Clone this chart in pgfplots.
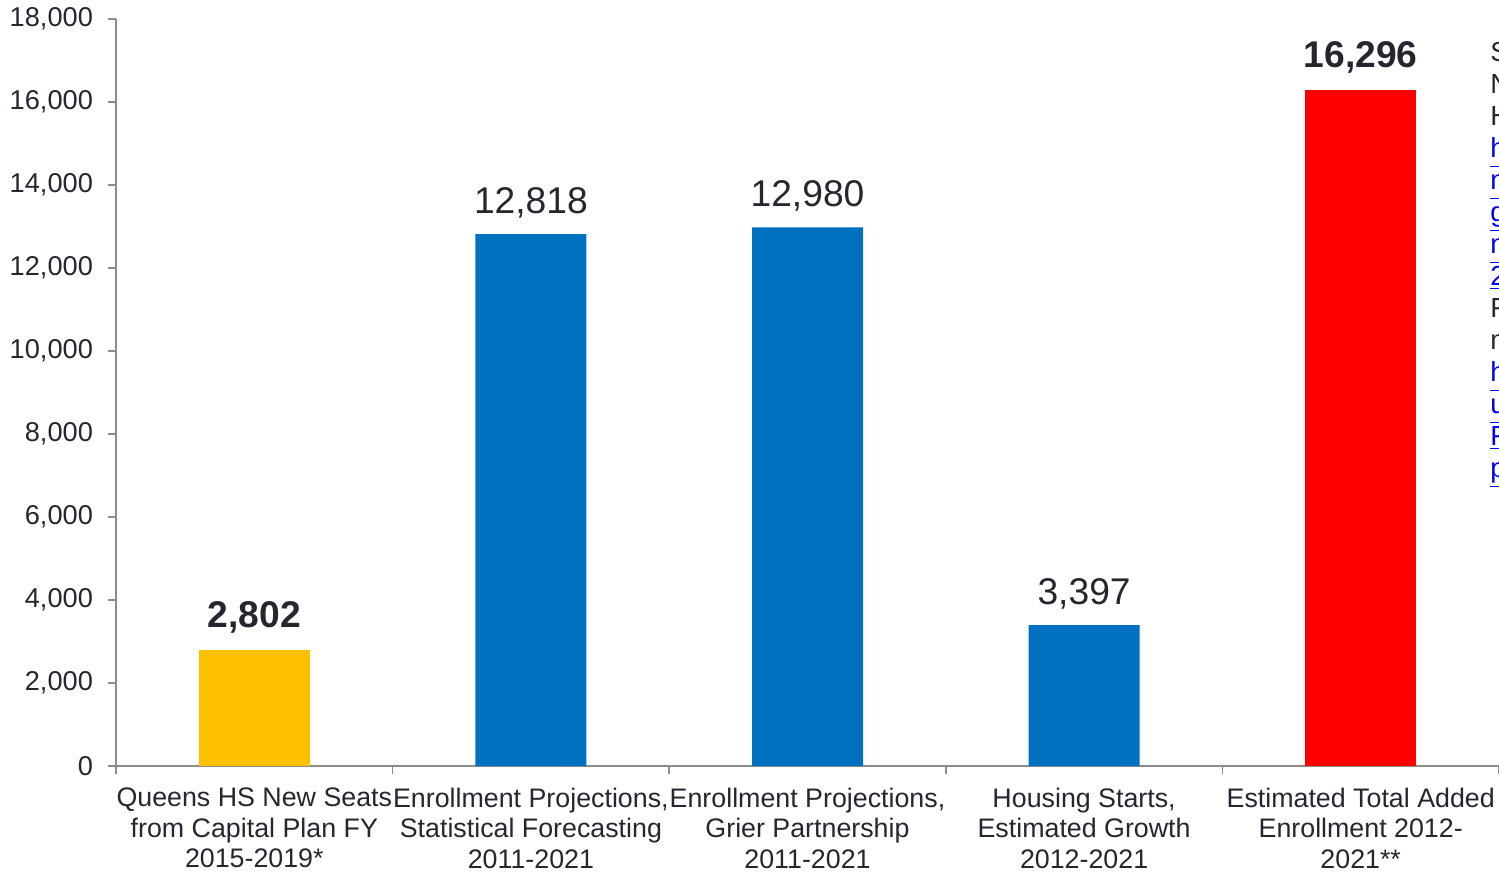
\documentclass[border=0pt]{standalone}
\usepackage{pgfplots}
\pgfplotsset{compat=1.18}
\usepackage{fontspec}
\setmainfont{Liberation Sans}
\definecolor{txt}{RGB}{38,38,48}
\definecolor{axgray}{RGB}{140,140,140}
\definecolor{barblue}{RGB}{0,112,192}
\definecolor{baryellow}{RGB}{255,192,0}
\definecolor{barred}{RGB}{255,0,0}
\definecolor{linkblue}{RGB}{0,0,238}
\newcommand{\lnk}[1]{\textcolor{linkblue}{\underline{#1}}}

\begin{document}
\begin{tikzpicture}[x=1pt,y=1pt]
\begin{axis}[
  at={(0,0)}, anchor=south west,
  scale only axis,
  width=691.5pt, height=373.5pt,
  xmin=-0.5, xmax=4.5, ymin=0, ymax=18000,
  axis x line*=bottom, axis y line*=left,
  axis line style={axgray, line width=0.8pt, -},
  tick align=outside,
  major tick length=4pt,
  tick style={axgray, line width=0.8pt},
  ytick={0,2000,...,18000},
  scaled y ticks=false,
  /pgf/number format/1000 sep={,},
  /pgf/number format/assume math mode=true,
  yticklabel style={font=\fontsize{13.6}{15}\selectfont, text=txt, xshift=-4pt},
  xtick={-0.5,0.5,1.5,2.5,3.5,4.5},
  x tick label as interval,
  xticklabels={
    {Queens HS New Seats\\from Capital Plan FY\\2015-2019*},
    {Enrollment Projections,\\Statistical Forecasting\\2011-2021},
    {Enrollment Projections,\\Grier Partnership\\2011-2021},
    {Housing Starts,\\Estimated Growth\\2012-2021},
    {Estimated Total Added\\Enrollment 2012-\\2021**}},
  xticklabel style={font=\fontsize{13.4}{15.25}\selectfont, text=txt, align=center, yshift=-3.5pt},
  every node near coord/.append style={font=\fontsize{18.6}{20}\selectfont, text=txt, yshift=4.5pt},
  clip=false,
]
\addplot[ybar, fill=baryellow, draw=none, bar width=55.5pt, bar shift=0pt,
  nodes near coords, nodes near coords style={font=\fontsize{18.6}{20}\selectfont\bfseries}]
  coordinates {(0,2802)};
\addplot[ybar, fill=barblue, draw=none, bar width=55.5pt, bar shift=0pt, nodes near coords]
  coordinates {(1,12818) (2,12980) (3,3397)};
\addplot[ybar, fill=barred, draw=none, bar width=55.5pt, bar shift=0pt,
  nodes near coords, nodes near coords style={font=\fontsize{18.6}{20}\selectfont\bfseries}]
  coordinates {(4,16296)};
\end{axis}
\node[anchor=north west, align=left, inner sep=0pt, text=txt,
  font=\fontsize{13.8}{16}\selectfont] at (687,362)
  {Sources:\\NYC SCA\\Housing\\\lnk{http}\\\lnk{nyc}\\\lnk{gov}\\\lnk{nyc}\\\lnk{2013}\\For\\more\\\lnk{http}\\\lnk{uploads}\\\lnk{Files}\\\lnk{pdf}};
\pgfresetboundingbox
\useasboundingbox (-58,-53.5) rectangle (691.5,383);
\end{tikzpicture}
\end{document}
